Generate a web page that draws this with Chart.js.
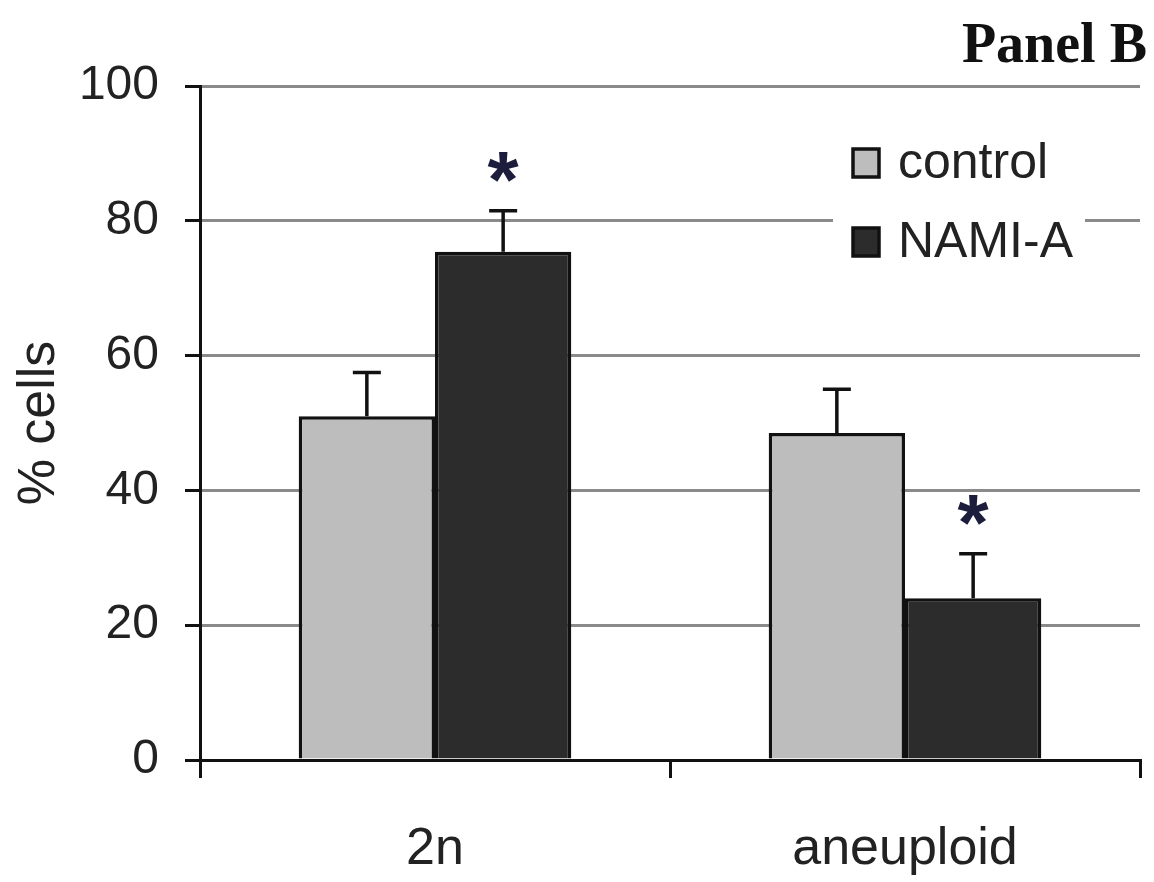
<!DOCTYPE html>
<html>
<head>
<meta charset="utf-8">
<script src="https://cdn.jsdelivr.net/npm/chart.js@4/dist/chart.umd.min.js"></script>
<style>
  body { margin: 0; background: #fff; }
  #wrap { width: 1154px; height: 882px; }
</style>
</head>
<body>
<div id="wrap"><canvas id="chart" width="1154" height="882"></canvas></div>
<script>
// data
const categories = ["2n", "aneuploid"];
const seriesNames = ["control", "NAMI-A"];
const controlValues = [51, 48.5];
const namiValues = [75.4, 24];
const controlErr = [6.5, 6.5];
const namiErr = [6.1, 6.6];
const namiSignificant = [true, true];
const yTicks = [0, 20, 40, 60, 80, 100];

const sans = "'Liberation Sans', Arial, sans-serif";
const ink = "#222";
const fills = ["#bdbdbd", "#2c2c2c"];

// error bars (upper only) and significance stars
const errorBars = {
  id: "errorBars",
  afterDatasetsDraw(chart) {
    const ctx = chart.ctx;
    const y = chart.scales.y;
    chart.data.datasets.forEach((ds, di) => {
      const meta = chart.getDatasetMeta(di);
      meta.data.forEach((bar, i) => {
        const top = y.getPixelForValue(ds.data[i] + ds.err[i]);
        ctx.save();
        ctx.strokeStyle = "#111";
        ctx.lineWidth = 3.5;
        ctx.beginPath();
        ctx.moveTo(bar.x, bar.y);
        ctx.lineTo(bar.x, top);
        ctx.moveTo(bar.x - 14, top);
        ctx.lineTo(bar.x + 14, top);
        ctx.stroke();
        if (ds.stars && ds.stars[i]) {
          ctx.fillStyle = "#1c1c3c";
          ctx.font = "bold 80px " + sans;
          ctx.textAlign = "center";
          ctx.textBaseline = "middle";
          ctx.fillText("*", bar.x, top - 26);
        }
        ctx.restore();
      });
    });
  }
};

// legend box inside plot and panel label
const decor = {
  id: "decor",
  afterDraw(chart) {
    const ctx = chart.ctx;
    ctx.save();
    ctx.fillStyle = "#fff";
    ctx.fillRect(833, 132, 252, 136);
    chart.data.datasets.forEach((ds, di) => {
      const cy = 163 + di * 79;
      ctx.fillStyle = ds.backgroundColor;
      ctx.strokeStyle = "#111";
      ctx.lineWidth = 3.5;
      ctx.fillRect(853, cy - 14, 26, 28);
      ctx.strokeRect(853, cy - 14, 26, 28);
      ctx.fillStyle = ink;
      ctx.font = "50px " + sans;
      ctx.textAlign = "left";
      ctx.textBaseline = "middle";
      ctx.fillText(ds.label, 898, cy + 1);
    });
    ctx.fillStyle = "#111";
    ctx.font = "bold 56px 'Liberation Serif', 'Times New Roman', serif";
    ctx.textAlign = "right";
    ctx.textBaseline = "alphabetic";
    ctx.fillText("Panel B", 1147, 62);
    ctx.restore();
  }
};

new Chart(document.getElementById("chart"), {
  type: "bar",
  data: {
    labels: categories,
    datasets: [
      {
        label: seriesNames[0],
        data: controlValues,
        err: controlErr,
        backgroundColor: fills[0],
        borderColor: "#111",
        borderWidth: 3.5,
        borderSkipped: "bottom",
        categoryPercentage: 0.58,
        barPercentage: 1
      },
      {
        label: seriesNames[1],
        data: namiValues,
        err: namiErr,
        stars: namiSignificant,
        backgroundColor: fills[1],
        borderColor: "#111",
        borderWidth: 3.5,
        borderSkipped: "bottom",
        categoryPercentage: 0.58,
        barPercentage: 1
      }
    ]
  },
  options: {
    responsive: false,
    animation: false,
    layout: { padding: { top: 86, right: 14, left: 0, bottom: 0 } },
    plugins: {
      legend: { display: false },
      tooltip: { enabled: false }
    },
    scales: {
      x: {
        offset: true,
        afterFit: s => { s.height = 122; },
        grid: {
          offset: true,
          drawOnChartArea: true,
          color: c => c.index === 2 ? "#8a8a8a" : "rgba(0,0,0,0)",
          lineWidth: 3,
          tickColor: "#111",
          tickLength: 18
        },
        border: { color: "#111", width: 3 },
        ticks: {
          color: ink,
          font: { family: sans, size: 52 },
          padding: 40
        }
      },
      y: {
        min: 0,
        max: 100,
        afterFit: s => { s.width = 200; },
        afterBuildTicks: s => { s.ticks = yTicks.map(v => ({ value: v })); },
        grid: {
          color: c => c.tick && c.tick.value === 0 ? "rgba(0,0,0,0)" : "#8a8a8a",
          lineWidth: 3,
          tickColor: "#111",
          tickLength: 15
        },
        border: { color: "#111", width: 3 },
        ticks: {
          color: ink,
          font: { family: sans, size: 48 },
          padding: 26
        },
        title: {
          display: true,
          text: "% cells",
          color: ink,
          font: { family: sans, size: 52 },
          padding: { top: 8, bottom: 0 }
        }
      }
    }
  },
  plugins: [errorBars, decor]
});
</script>
</body>
</html>
